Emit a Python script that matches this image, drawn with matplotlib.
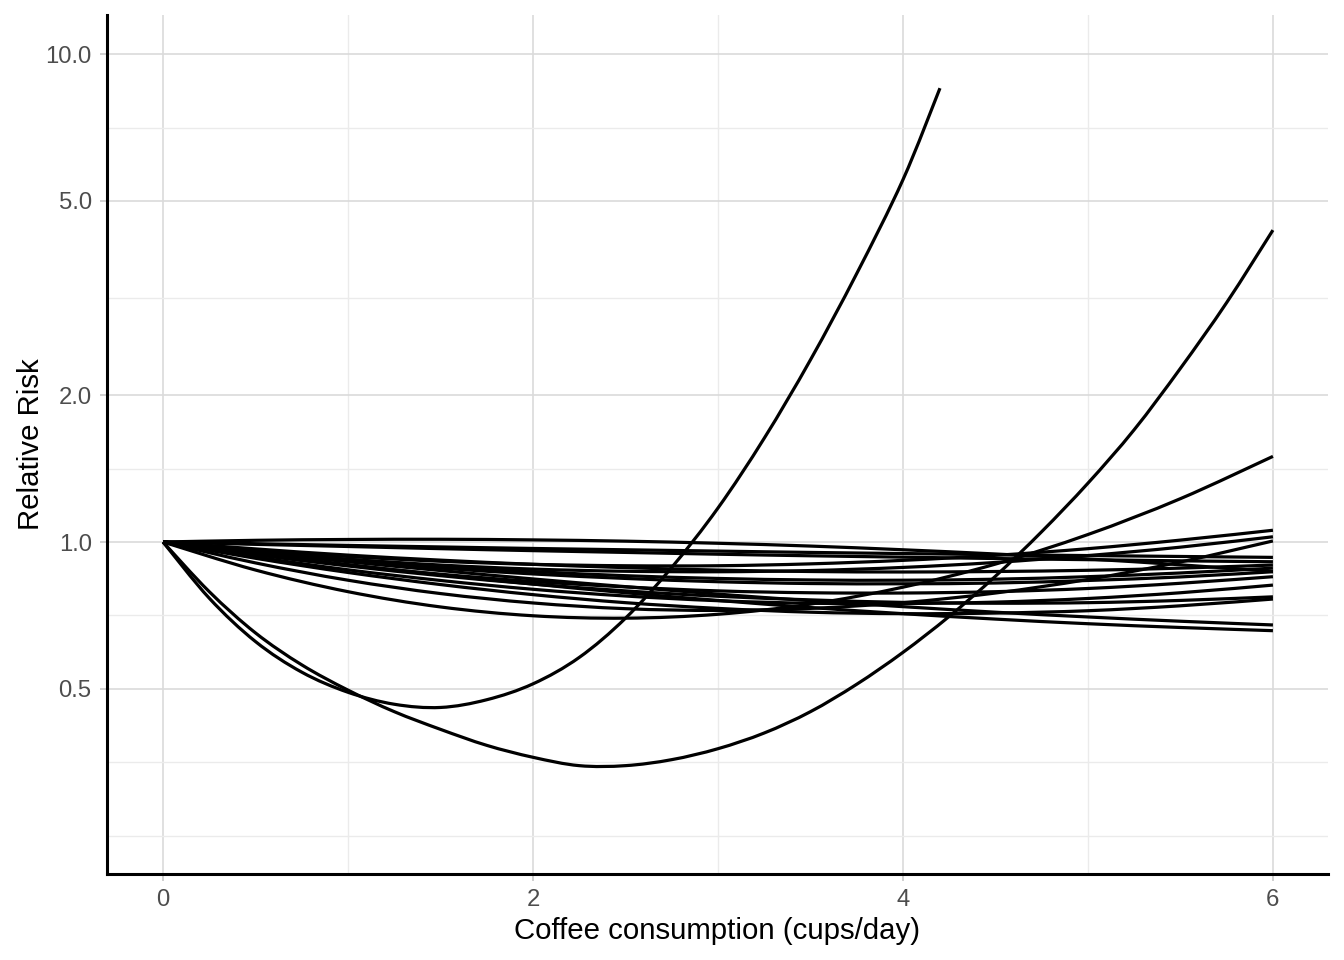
import numpy as np
import matplotlib
matplotlib.use("Agg")
import matplotlib.pyplot as plt
from matplotlib.path import Path
from matplotlib.patches import PathPatch
from matplotlib.ticker import FixedLocator, FixedFormatter, NullFormatter

# coffee dose (cups/day) where the curves were read
cups = [0, 0.5, 1, 1.5, 2, 2.5, 3, 3.5, 4, 4.5, 5, 5.5, 6]

# relative risk per study, read at the cups above
rr_01 = [1.0, 1.008, 1.012, 1.013, 1.010, 1.004, 0.994, 0.981, 0.964, 0.945, 0.923, 0.898, 0.870]
rr_02 = [1.0, 0.992, 0.984, 0.977, 0.970, 0.964, 0.958, 0.952, 0.947, 0.942, 0.938, 0.934, 0.930]
rr_03 = [1.0, 0.989, 0.979, 0.969, 0.960, 0.952, 0.944, 0.937, 0.931, 0.925, 0.920, 0.915, 0.911]
rr_04 = [1.0, 0.963, 0.934, 0.913, 0.900, 0.894, 0.894, 0.902, 0.917, 0.939, 0.969, 1.009, 1.057]
rr_05 = [1.0, 0.968, 0.940, 0.918, 0.900, 0.886, 0.876, 0.870, 0.868, 0.870, 0.875, 0.884, 0.897]
rr_06 = [1.0, 0.956, 0.922, 0.897, 0.880, 0.871, 0.869, 0.874, 0.887, 0.908, 0.938, 0.976, 1.025]
rr_07 = [1.0, 0.957, 0.921, 0.893, 0.870, 0.853, 0.842, 0.836, 0.835, 0.839, 0.849, 0.864, 0.884]
rr_08 = [1.0, 0.954, 0.915, 0.884, 0.860, 0.842, 0.829, 0.822, 0.821, 0.824, 0.834, 0.848, 0.869]
rr_09 = [1.0, 0.953, 0.911, 0.874, 0.840, 0.810, 0.782, 0.758, 0.737, 0.718, 0.702, 0.688, 0.676]
rr_10 = [1.0, 0.943, 0.896, 0.859, 0.830, 0.809, 0.794, 0.787, 0.786, 0.791, 0.803, 0.823, 0.849]
rr_11 = [1.0, 0.946, 0.899, 0.857, 0.820, 0.787, 0.759, 0.734, 0.713, 0.695, 0.680, 0.668, 0.658]
rr_12 = [1.0, 0.932, 0.877, 0.834, 0.800, 0.775, 0.758, 0.749, 0.748, 0.753, 0.766, 0.787, 0.816]
rr_13 = [1.0, 0.926, 0.866, 0.818, 0.780, 0.751, 0.731, 0.718, 0.713, 0.715, 0.723, 0.740, 0.764]
rr_14 = [1.0, 0.906, 0.835, 0.784, 0.750, 0.730, 0.724, 0.731, 0.751, 0.786, 0.838, 0.910, 1.005]
rr_15 = [1.0, 0.876, 0.791, 0.736, 0.706, 0.698, 0.711, 0.746, 0.808, 0.901, 1.036, 1.227, 1.498]
rr_16 = [1.0, 0.942, 0.893, 0.853, 0.820, 0.794, 0.774, 0.761, 0.752, 0.749, 0.751, 0.759, 0.772]

# the two strongly curved studies were read on a finer step
cups_steep = [0, 0.25, 0.5, 0.75, 1, 1.25, 1.5, 1.75, 2, 2.25, 2.5, 2.75,
              3, 3.25, 3.5, 3.75, 4, 4.2]
rr_steep = [1.0, 0.767, 0.625, 0.541, 0.492, 0.465, 0.458, 0.475, 0.512, 0.580,
            0.698, 0.887, 1.174, 1.632, 2.363, 3.550, 5.529, 8.516]

cups_u = [0, 0.25, 0.5, 0.75, 1, 1.25, 1.5, 1.75, 2, 2.25, 2.5, 2.75, 3,
          3.25, 3.5, 3.75, 4, 4.25, 4.5, 4.75, 5, 5.25, 5.5, 5.75, 6]
rr_u = [1.0, 0.791, 0.651, 0.560, 0.497, 0.449, 0.413, 0.383, 0.362, 0.348,
        0.348, 0.358, 0.377, 0.406, 0.449, 0.511, 0.594, 0.704, 0.851, 1.050,
        1.320, 1.699, 2.270, 3.096, 4.358]

y_ticks = [0.5, 1.0, 2.0, 5.0, 10.0]
y_tick_labels = ["0.5", "1.0", "2.0", "5.0", "10.0"]
x_ticks = [0, 2, 4, 6]


def smooth_curve(ax, xs, ys):
    # catmull-rom through the read points, built in log-y space so the
    # bezier stays smooth once the log scale maps it to the screen
    px = np.asarray(xs, float)
    py = np.log(np.asarray(ys, float))
    n = len(px)
    verts = [(px[0], py[0])]
    codes = [Path.MOVETO]
    for i in range(n - 1):
        i0, i2, i3 = max(i - 1, 0), i + 1, min(i + 2, n - 1)
        c1 = (px[i] + (px[i2] - px[i0]) / 6, py[i] + (py[i2] - py[i0]) / 6)
        c2 = (px[i2] - (px[i3] - px[i]) / 6, py[i2] - (py[i3] - py[i]) / 6)
        verts += [c1, c2, (px[i2], py[i2])]
        codes += [Path.CURVE4] * 3
    verts = [(vx, np.exp(vy)) for vx, vy in verts]
    patch = PathPatch(Path(verts, codes), transform=ax.transData, fill=False,
                      edgecolor="black", lw=1.15, capstyle="butt", joinstyle="round")
    ax.add_patch(patch)


plt.rcParams["font.family"] = ["Liberation Sans", "DejaVu Sans"]

fig = plt.figure(figsize=(6.72, 4.8), dpi=200)
ax = fig.add_axes([0.0796, 0.0896, 0.9084, 0.8948])

ax.set_yscale("log")
ax.set_xlim(-0.303, 6.297)
ax.set_ylim(0.2087, 12.03)

flat = [rr_01, rr_02, rr_03, rr_04, rr_05, rr_06, rr_07, rr_08,
        rr_09, rr_10, rr_11, rr_12, rr_13, rr_14, rr_15, rr_16]
for rr in flat:
    smooth_curve(ax, cups, rr)
smooth_curve(ax, cups_steep, rr_steep)
smooth_curve(ax, cups_u, rr_u)

ax.yaxis.set_major_locator(FixedLocator(y_ticks))
ax.yaxis.set_major_formatter(FixedFormatter(y_tick_labels))
ax.yaxis.set_minor_locator(FixedLocator([0.25, 0.3536, 0.7071, 1.4142, 3.1623, 7.0711]))
ax.yaxis.set_minor_formatter(NullFormatter())
ax.xaxis.set_major_locator(FixedLocator(x_ticks))
ax.xaxis.set_minor_locator(FixedLocator([1, 3, 5]))

ax.grid(which="major", color="#DADADA", lw=0.6)
ax.grid(which="minor", color="#EBEBEB", lw=0.5)
ax.set_axisbelow(True)

for side in ["top", "right"]:
    ax.spines[side].set_visible(False)
for side in ["left", "bottom"]:
    ax.spines[side].set_color("black")
    ax.spines[side].set_linewidth(1.1)

ax.tick_params(which="major", length=2.5, width=0.6, color="#C8C8C8",
               labelsize=8.6, labelcolor="#4D4D4D", pad=3)
ax.tick_params(which="minor", length=0)

ax.set_xlabel("Coffee consumption (cups/day)", fontsize=10.6, labelpad=2)
ax.set_ylabel("Relative Risk", fontsize=10.6, labelpad=0)

fig.savefig("out.png", dpi=200)
